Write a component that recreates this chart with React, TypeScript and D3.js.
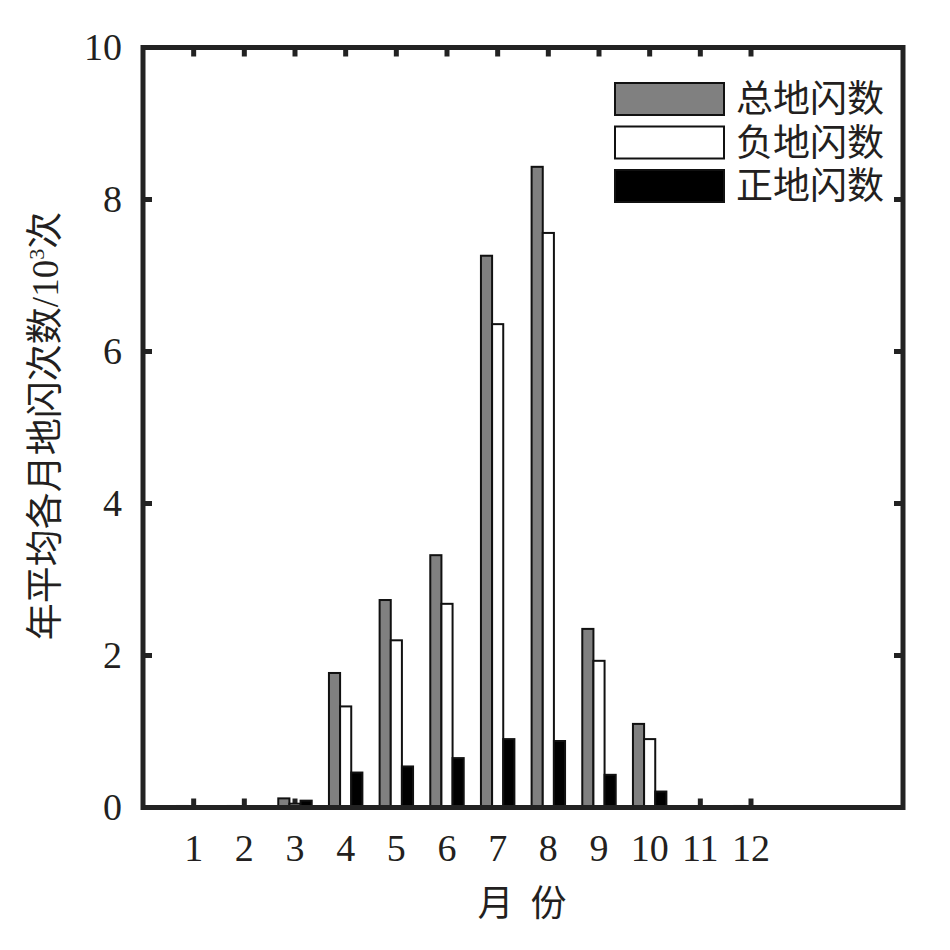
import React from 'react';
import * as d3 from 'd3';

const months = [1, 2, 3, 4, 5, 6, 7, 8, 9, 10, 11, 12];
const totalFlash = [0.02, 0.02, 0.12, 1.77, 2.73, 3.32, 7.26, 8.43, 2.35, 1.1, 0.01, 0.02];
const negFlash = [0.015, 0.015, 0.05, 1.33, 2.2, 2.68, 6.36, 7.56, 1.93, 0.9, 0.01, 0.015];
const posFlash = [0.005, 0.005, 0.09, 0.46, 0.54, 0.65, 0.9, 0.875, 0.43, 0.21, 0.005, 0.005];
const yTicks = [0, 2, 4, 6, 8, 10];
const seriesNames = ['总地闪数', '负地闪数', '正地闪数'];
const seriesFills = ['#808080', '#ffffff', '#000000'];

const W = 950;
const H = 950;
const margin = { top: 47.5, right: 47, bottom: 142.5, left: 143 };
const FONT = '"Liberation Serif", "Noto Sans CJK SC", serif';
const INK = '#231f20';

export default function App() {
  const x = d3.scaleLinear().domain([0, 15]).range([margin.left, W - margin.right]);
  const y = d3.scaleLinear().domain([0, 10]).range([H - margin.bottom, margin.top]);

  const barW = 0.22;
  const series = [totalFlash, negFlash, posFlash];
  const x0 = x(0);
  const y0 = y(0);
  const bw = x(barW) - x0;
  const tickLen = 9;

  return (
    <svg
      width={W}
      height={H}
      style={{ position: 'absolute', left: 0, top: 0, background: '#fff' }}
      fontFamily={FONT}
    >
      {/* ticks (under the bars) */}
      {months.map(m => (
        <g key={m} stroke="#222" strokeWidth={5}>
          <line x1={x(m)} x2={x(m)} y1={y0} y2={y0 - tickLen} />
          <line x1={x(m)} x2={x(m)} y1={y(10)} y2={y(10) + tickLen} />
        </g>
      ))}
      {yTicks.map(t => (
        <g key={t} stroke="#222" strokeWidth={5}>
          <line x1={x0} x2={x0 + tickLen} y1={y(t)} y2={y(t)} />
          <line x1={x(15)} x2={x(15) - tickLen} y1={y(t)} y2={y(t)} />
        </g>
      ))}

      {/* bars */}
      {series.map((vals, si) => (
        <g key={si}>
          {vals.map((v, i) => {
            const cx = x(months[i] + (si - 1) * barW);
            return (
              <rect
                key={i}
                x={cx - bw / 2}
                y={y(v)}
                width={bw}
                height={y0 - y(v)}
                fill={seriesFills[si]}
                stroke="#111"
                strokeWidth={2}
              />
            );
          })}
        </g>
      ))}

      {/* frame */}
      <rect
        x={x0}
        y={y(10)}
        width={x(15) - x0}
        height={y0 - y(10)}
        fill="none"
        stroke="#222"
        strokeWidth={5}
      />

      {/* tick labels */}
      {months.map(m => (
        <text key={m} x={x(m)} y={861} textAnchor="middle" fontSize={38} fill={INK}>
          {m}
        </text>
      ))}
      {yTicks.map(t => (
        <text key={t} x={122} y={y(t)} dy="0.34em" textAnchor="end" fontSize={38} fill={INK}>
          {t}
        </text>
      ))}

      {/* axis titles */}
      <text x={522} y={916} textAnchor="middle" fontSize={36} fill={INK}>
        月 <tspan dx={8}>份</tspan>
      </text>
      <text
        transform={`translate(58, 426) rotate(-90)`}
        textAnchor="middle"
        fontSize={37}
        fill={INK}
      >
        年平均各月地闪次数/10<tspan fontSize={22} dy={-14}>3</tspan>
        <tspan dy={14}>次</tspan>
      </text>

      {/* legend */}
      {seriesNames.map((name, i) => {
        const ly = 99 + i * 43.5;
        return (
          <g key={name}>
            <rect
              x={615}
              y={ly - 16}
              width={109}
              height={32}
              fill={seriesFills[i]}
              stroke="#111"
              strokeWidth={2}
            />
            <text x={736} y={ly} dy="0.36em" fontSize={37} fill={INK}>
              {name}
            </text>
          </g>
        );
      })}
    </svg>
  );
}
